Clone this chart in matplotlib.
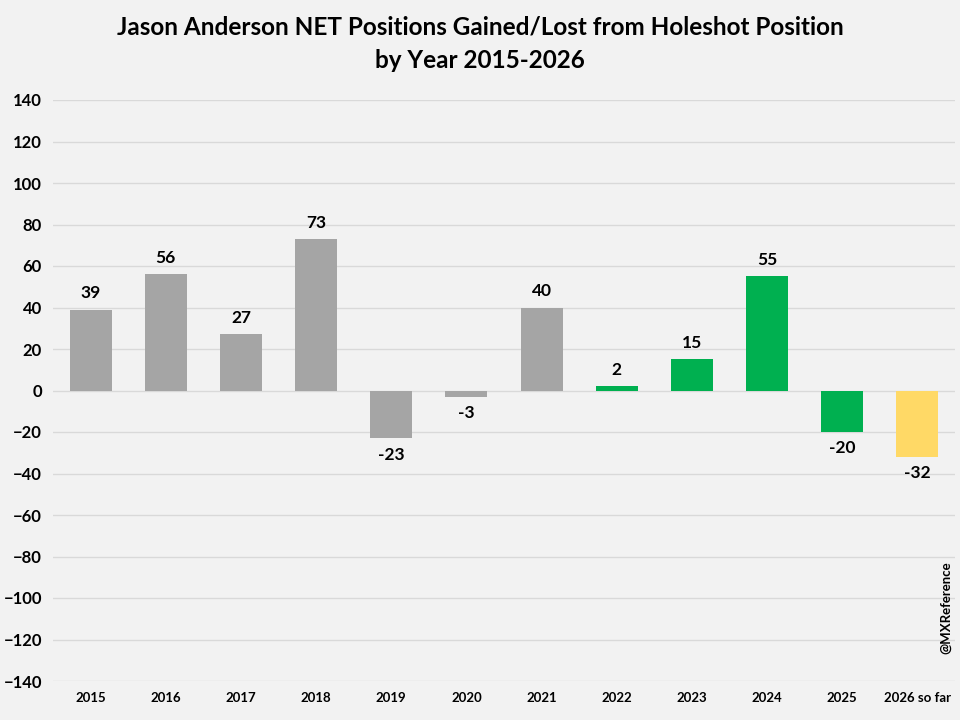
import matplotlib.pyplot as plt
import numpy as np

plt.rcParams['font.family'] = ['Lato', 'DejaVu Sans']
plt.rcParams['font.weight'] = 'bold'

# 数据
years = ['2015', '2016', '2017', '2018', '2019', '2020', '2021', '2022', '2023', '2024', '2025', '2026 so far']
net_positions = [39, 56, 27, 73, -23, -3, 40, 2, 15, 55, -20, -32]
bar_colors = ['#A5A5A5'] * 7 + ['#00B050'] * 4 + ['#FFD966']

fig = plt.figure(figsize=(9.6, 7.2), dpi=100, facecolor='#F2F2F2')
ax = fig.add_axes([53 / 960, 1 - 681 / 720, (955 - 53) / 960, (681 - 100) / 720])
ax.set_facecolor('#F2F2F2')

x = np.arange(len(years))
ax.bar(x, net_positions, width=0.56, color=bar_colors, zorder=3)

# 数据标签
for xi, v in zip(x, net_positions):
    if v >= 0:
        ax.text(xi, v + 4, f"{v}", ha='center', va='bottom', fontsize=12.5, fontweight='bold')
    else:
        ax.text(xi, v - 4, f"{v}", ha='center', va='top', fontsize=12.5, fontweight='bold')

ax.set_xlim(-0.5, len(years) - 0.5)
ax.set_ylim(-140, 140)
ax.set_yticks(np.arange(-140, 141, 20))
ax.set_xticks(x)
ax.set_xticklabels(years)
ax.tick_params(axis='x', length=0, labelsize=9.5, pad=8)
ax.tick_params(axis='y', length=0, labelsize=12, pad=8)

ax.grid(axis='y', color='#D9D9D9', linewidth=1, zorder=0)
for s in ax.spines.values():
    s.set_visible(False)

fig.text(0.5, 1 - 27 / 720, "Jason Anderson NET Positions Gained/Lost from Holeshot Position",
         ha='center', va='center', fontsize=17.5, fontweight='bold')
fig.text(0.5, 1 - 60 / 720, "by Year 2015-2026",
         ha='center', va='center', fontsize=17.5, fontweight='bold')

fig.text(946 / 960, 1 - 608 / 720, "@MXReference", rotation=90, ha='center', va='center',
         fontsize=9.5, fontweight='bold')

fig.savefig('out.png', dpi=100, facecolor='#F2F2F2')
